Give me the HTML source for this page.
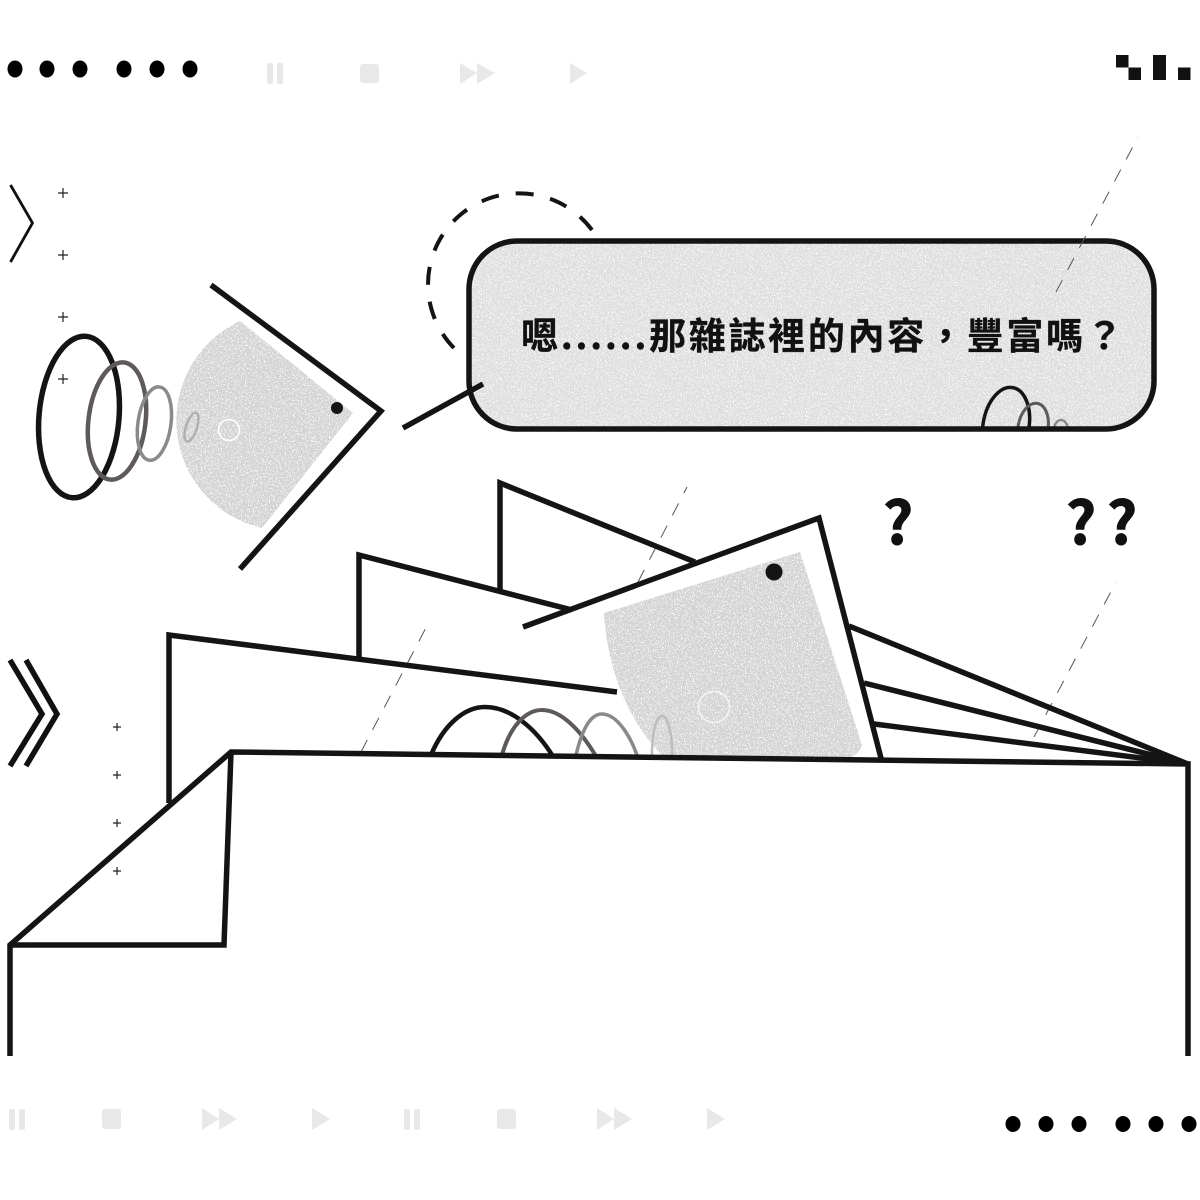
<!DOCTYPE html>
<html><head><meta charset="utf-8"><style>
html,body{margin:0;padding:0;background:#fff}
svg{display:block}
</style></head><body>
<svg xmlns="http://www.w3.org/2000/svg" width="1200" height="1200" viewBox="0 0 1200 1200">
<defs>
<filter id="n" x="0" y="0" width="1" height="1" color-interpolation-filters="sRGB">
<feTurbulence type="fractalNoise" baseFrequency="0.75" numOctaves="2" seed="4" result="t"/>
<feColorMatrix in="t" values="0 0 0 0 1 0 0 0 0 1 0 0 0 0 1 12 0 0 0 -6.900" result="s"/>
<feComposite in="s" in2="SourceAlpha" operator="in" result="c"/>
<feMerge><feMergeNode in="SourceGraphic"/><feMergeNode in="c"/></feMerge>
</filter>
<clipPath id="bc"><rect x="469" y="241" width="685" height="188" rx="48"/></clipPath>
<clipPath id="pc"><rect x="400" y="600" width="500" height="157"/></clipPath>
</defs>
<rect width="1200" height="1200" fill="#fff"/>

<!-- top dots -->
<g fill="#000"><ellipse cx="15" cy="69" rx="7.500" ry="8.500"/><ellipse cx="47" cy="69" rx="7.500" ry="8.500"/><ellipse cx="80" cy="69" rx="7.500" ry="8.500"/><ellipse cx="124" cy="69" rx="7.500" ry="8.500"/><ellipse cx="157" cy="69" rx="7.500" ry="8.500"/><ellipse cx="190" cy="69" rx="7.500" ry="8.500"/></g>
<!-- top controls -->
<g fill="#e8e8e8">
<rect x="267" y="63" width="6" height="21" rx="2"/><rect x="277" y="63" width="6" height="21" rx="2"/>
<rect x="360" y="64" width="19" height="19" rx="3"/>
<path d="M460 63 L477 73 L460 84Z M477 63 L495 73 L477 84Z"/>
<path d="M570 63 L587 73 L570 84Z"/>
</g>
<!-- top right squares -->
<g fill="#111"><rect x="1116" y="55" width="12.500" height="12.500"/><rect x="1128.500" y="67.500" width="12.500" height="12.500"/><rect x="1153" y="55" width="13" height="25"/><rect x="1178" y="67.500" width="12.500" height="12.500"/></g>

<!-- chevrons -->
<path d="M10.500 185 L32.500 223 L10.500 262" fill="none" stroke="#111" stroke-width="2.800"/>
<g fill="none" stroke="#111" stroke-width="5.500"><path d="M10 660 L42 714 L10 766"/><path d="M26 660 L57 714 L26 766"/></g>
<!-- plus signs -->
<g stroke="#222" stroke-width="1.200" fill="none">
<path d="M58 193H68M63 188V198M58 255H68M63 250V260M58 317H68M63 312V322M58 379H68M63 374V384"/>
<path d="M113 727H121M117 723V731M113 775H121M117 771V779M113 823H121M117 819V827M113 871H121M117 867V875"/>
</g>

<!-- left fan -->
<path d="M240 321 L353 413 L262 528 A110 110 0 0 1 240 321Z" fill="#d4d4d4" filter="url(#n)"/>
<g fill="none">
<ellipse cx="79" cy="417" rx="40" ry="81" transform="rotate(5 79 417)" stroke="#141414" stroke-width="5.500"/>
<ellipse cx="117" cy="421" rx="28.500" ry="59" transform="rotate(7 117 421)" stroke="#5f5a5a" stroke-width="4.500"/>
<ellipse cx="154.500" cy="423.500" rx="16.500" ry="37" transform="rotate(8 154 423)" stroke="#8a8a8a" stroke-width="3.500"/>
<ellipse cx="191.500" cy="427" rx="5.500" ry="15" transform="rotate(18 191 427)" stroke="#b0b0b0" stroke-width="2.500"/>
<circle cx="229" cy="430" r="10.500" stroke="#fff" stroke-width="1.500"/>
<path d="M211 285 L381 411 L240 569" stroke="#141414" stroke-width="5.500"/>
</g>
<circle cx="337" cy="408" r="6" fill="#141414"/>

<!-- dashed circle -->
<path d="M592 230 A91 91 0 1 0 456 350" fill="none" stroke="#141414" stroke-width="4" stroke-dasharray="18 17"/>

<!-- bubble -->
<rect x="469" y="241" width="685" height="188" rx="48" fill="#dfdfdf" filter="url(#n)"/>
<g clip-path="url(#bc)" fill="none">
<ellipse cx="1006" cy="426" rx="23" ry="39" transform="rotate(10 1006 426)" stroke="#141414" stroke-width="3.500"/>
<ellipse cx="1033" cy="428" rx="15" ry="25" transform="rotate(10 1033 428)" stroke="#5f5a5a" stroke-width="3"/>
<ellipse cx="1061" cy="430" rx="7" ry="10" stroke="#8a8a8a" stroke-width="2.500"/>
</g>
<rect x="469" y="241" width="685" height="188" rx="48" fill="none" stroke="#141414" stroke-width="5.500"/>
<path d="M403 428 L483 384" stroke="#141414" stroke-width="5.500" fill="none"/>
<text x="521" y="349" font-weight="700" font-size="37" letter-spacing="2.700" fill="#111" stroke="#111" stroke-width="0.300" style="font-family:'Noto Sans CJK TC',sans-serif">嗯......那雜誌裡的內容，豐富嗎？</text>

<!-- dashed thin lines -->
<g stroke="#555" stroke-width="1" fill="none" stroke-dasharray="13.500 11.500">
<path d="M1056 292 L1138 137"/>
<path d="M638 582 L687 487"/>
<path d="M361 752 L430 620"/>
<path d="M1034 737 L1116 582"/>
</g>

<!-- question marks -->
<g font-weight="700" font-size="59" fill="#111" stroke="#111" stroke-width="1" text-anchor="middle" style="font-family:'Noto Sans CJK TC',sans-serif">
<text x="898" y="544">?</text><text x="1081" y="544">?</text><text x="1122" y="544">?</text>
</g>

<!-- papers -->
<g fill="none" stroke="#141414" stroke-width="5.500" stroke-linejoin="miter">
<path d="M500 590 V483 L695 562"/>
<path d="M359 660 V555 L572 610"/>
<path d="M169 803 V635 L617 692"/>
<path d="M849 626 L1188 764"/>
<path d="M864 683 L1188 764"/>
<path d="M874 724 L1188 764"/>
</g>
<!-- arcs under the paper -->
<g fill="none" clip-path="url(#pc)">
<path d="M431 755 C444 724 465 707 485 707 C510 707 535 727 554 758" stroke="#141414" stroke-width="4.500"/>
<path d="M502 755 C510 726 526 710 542 710 C562 710 582 732 597 758" stroke="#5f5a5a" stroke-width="4"/>
<path d="M576 755 C582 730 590 714 602 714 C616 714 630 734 638 758" stroke="#8a8a8a" stroke-width="3.500"/>
</g>
<!-- big fan -->
<path d="M604 613 L800 552 L862 745 Q858 757 845 758 L665 758 C630 725 607 670 604 613Z" fill="#d4d4d4" filter="url(#n)"/>
<g fill="none" clip-path="url(#pc)">
<ellipse cx="662" cy="752" rx="10" ry="36" stroke="#bdbdbd" stroke-width="2.500"/>
</g>
<circle cx="714" cy="707" r="15.500" fill="none" stroke="#f4f4f4" stroke-width="1.500"/>
<circle cx="774" cy="572" r="8.500" fill="#141414"/>
<path d="M523 627 L819 518 L882 762" fill="none" stroke="#141414" stroke-width="5.500"/>

<!-- box -->
<path d="M1150 763 L1188 764 L1170 756Z" fill="#141414"/>
<path d="M10 1056 V945 L231 752 L1188 764 V1056" fill="none" stroke="#141414" stroke-width="5.500"/>
<path d="M10 945 H224 L231 752" fill="none" stroke="#141414" stroke-width="5.500"/>

<!-- bottom controls -->
<g fill="#e8e8e8">
<rect x="9" y="1109" width="6" height="21" rx="2"/><rect x="19" y="1109" width="6" height="21" rx="2"/>
<rect x="102" y="1109" width="19" height="20" rx="3"/>
<path d="M202 1108 L219 1119 L202 1130Z M219 1108 L237 1119 L219 1130Z"/>
<path d="M312 1108 L330 1119 L312 1130Z"/>
<rect x="404" y="1109" width="6" height="21" rx="2"/><rect x="414" y="1109" width="6" height="21" rx="2"/>
<rect x="497" y="1109" width="19" height="20" rx="3"/>
<path d="M597 1108 L614 1119 L597 1130Z M614 1108 L632 1119 L614 1130Z"/>
<path d="M707 1108 L725 1119 L707 1130Z"/>
</g>
<!-- bottom dots -->
<g fill="#000"><ellipse cx="1013" cy="1124" rx="7.500" ry="8"/><ellipse cx="1046" cy="1124" rx="7.500" ry="8"/><ellipse cx="1079" cy="1124" rx="7.500" ry="8"/><ellipse cx="1123" cy="1124" rx="7.500" ry="8"/><ellipse cx="1156" cy="1124" rx="7.500" ry="8"/><ellipse cx="1189" cy="1124" rx="7.500" ry="8"/></g>
</svg>
</body></html>
